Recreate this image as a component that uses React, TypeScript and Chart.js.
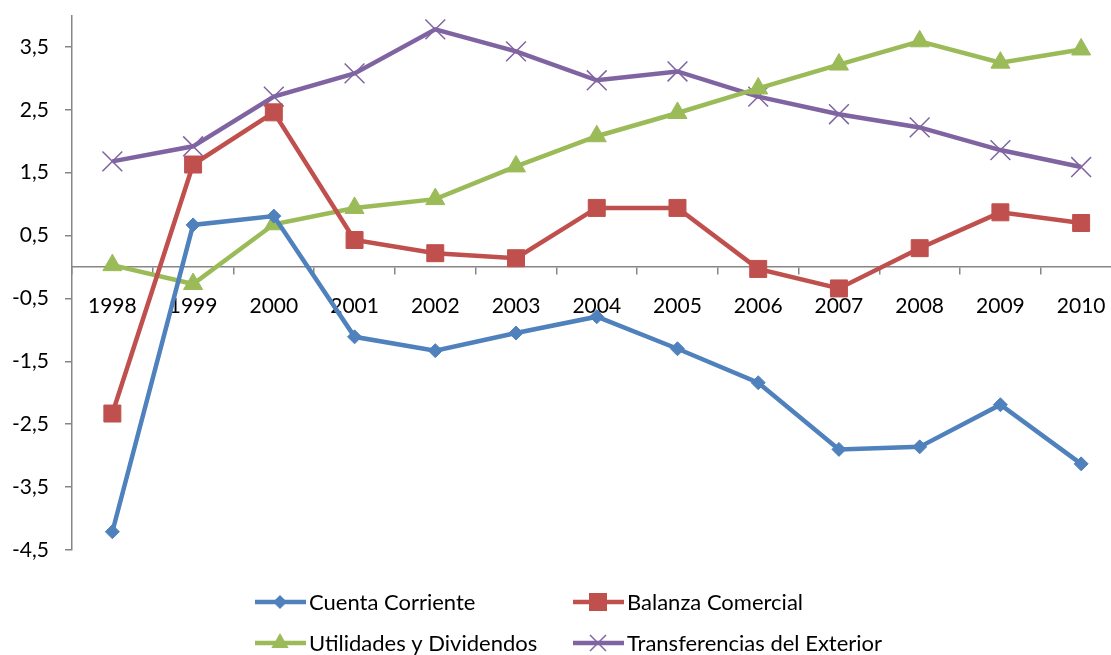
import React, { useEffect, useRef } from "react";
import { Chart, registerables } from "chart.js";

Chart.register(...registerables);

const years = ["1998", "1999", "2000", "2001", "2002", "2003", "2004", "2005", "2006", "2007", "2008", "2009", "2010"];
const cuentaCorriente = [-4.21, 0.67, 0.81, -1.11, -1.33, -1.05, -0.79, -1.3, -1.84, -2.9, -2.86, -2.19, -3.13];
const balanzaComercial = [-2.33, 1.63, 2.46, 0.43, 0.22, 0.14, 0.94, 0.94, -0.03, -0.34, 0.3, 0.87, 0.7];
const utilidadesDividendos = [0.03, -0.27, 0.68, 0.94, 1.08, 1.6, 2.08, 2.45, 2.84, 3.22, 3.59, 3.25, 3.46];
const transferenciasExterior = [1.68, 1.92, 2.71, 3.08, 3.78, 3.43, 2.97, 3.11, 2.71, 2.43, 2.22, 1.86, 1.59];
const yTickValues = [-4.5, -3.5, -2.5, -1.5, -0.5, 0.5, 1.5, 2.5, 3.5];
const seriesNames = ["Cuenta Corriente", "Balanza Comercial", "Utilidades y Dividendos", "Transferencias del Exterior"];

const BLUE = "#4F81BD";
const RED = "#C0504D";
const GREEN = "#9BBB59";
const PURPLE = "#8064A2";
const AXIS = "#868686";
const FONT = "Lato, 'Open Sans', sans-serif";

const legendLayout = [
  { x: 255, y: 602, color: BLUE, style: "diamond" },
  { x: 573, y: 602, color: RED, style: "square" },
  { x: 255, y: 643, color: GREEN, style: "triangle" },
  { x: 573, y: 643, color: PURPLE, style: "cross" },
];

function drawMarker(ctx: CanvasRenderingContext2D, style: string, x: number, y: number, color: string) {
  ctx.save();
  ctx.fillStyle = color;
  ctx.strokeStyle = color;
  ctx.beginPath();
  if (style === "diamond") {
    const r = 7;
    ctx.moveTo(x - r, y);
    ctx.lineTo(x, y - r);
    ctx.lineTo(x + r, y);
    ctx.lineTo(x, y + r);
    ctx.closePath();
    ctx.fill();
  } else if (style === "square") {
    const h = 9;
    ctx.rect(x - h, y - h, 2 * h, 2 * h);
    ctx.fill();
  } else if (style === "triangle") {
    const r = 10;
    ctx.moveTo(x, y - r);
    ctx.lineTo(x + r * 0.866, y + r * 0.5);
    ctx.lineTo(x - r * 0.866, y + r * 0.5);
    ctx.closePath();
    ctx.fill();
  } else {
    const d = 8;
    ctx.lineWidth = 1.5;
    ctx.moveTo(x - d, y - d);
    ctx.lineTo(x + d, y + d);
    ctx.moveTo(x - d, y + d);
    ctx.lineTo(x + d, y - d);
    ctx.stroke();
  }
  ctx.restore();
}

const legendPlugin = {
  id: "excelLegend",
  afterDraw(chart: any) {
    const ctx: CanvasRenderingContext2D = chart.ctx;
    ctx.save();
    legendLayout.forEach((item, i) => {
      ctx.strokeStyle = item.color;
      ctx.lineWidth = 4.5;
      ctx.beginPath();
      ctx.moveTo(item.x, item.y);
      ctx.lineTo(item.x + 51, item.y);
      ctx.stroke();
      drawMarker(ctx, item.style, item.x + 25, item.y, item.color);
      ctx.fillStyle = "#000";
      ctx.font = `22px ${FONT}`;
      ctx.textBaseline = "middle";
      ctx.textAlign = "left";
      ctx.fillText(seriesNames[i], item.x + 54, item.y + 1);
    });
    ctx.restore();
  },
};

export default function App() {
  const canvasRef = useRef<HTMLCanvasElement | null>(null);

  useEffect(() => {
    if (!canvasRef.current) return;
    const chart = new Chart(canvasRef.current, {
      type: "line",
      data: {
        labels: years,
        datasets: [
          {
            label: seriesNames[0],
            data: cuentaCorriente,
            borderColor: BLUE,
            backgroundColor: BLUE,
            borderWidth: 4.5,
            pointStyle: "rectRot",
            pointRadius: 7,
            pointBorderWidth: 1,
            tension: 0,
          },
          {
            label: seriesNames[1],
            data: balanzaComercial,
            borderColor: RED,
            backgroundColor: RED,
            borderWidth: 4.5,
            pointStyle: "rect",
            pointRadius: 12,
            pointBorderWidth: 1,
            tension: 0,
          },
          {
            label: seriesNames[2],
            data: utilidadesDividendos,
            borderColor: GREEN,
            backgroundColor: GREEN,
            borderWidth: 4.5,
            pointStyle: "triangle",
            pointRadius: 11,
            pointBorderWidth: 1,
            tension: 0,
          },
          {
            label: seriesNames[3],
            data: transferenciasExterior,
            borderColor: PURPLE,
            backgroundColor: PURPLE,
            borderWidth: 4.5,
            pointStyle: "crossRot",
            pointRadius: 14,
            pointBorderWidth: 1.5,
            tension: 0,
          },
        ],
      },
      options: {
        animation: false,
        responsive: false,
        maintainAspectRatio: false,
        layout: { padding: { left: 0, top: 12, right: 4, bottom: 105 } },
        plugins: {
          legend: { display: false },
          tooltip: { enabled: false },
        },
        scales: {
          x: {
            type: "category",
            offset: true,
            position: { y: 0 } as any,
            afterFit: (scale: any) => {
              scale.paddingLeft = 0;
              scale.paddingRight = 0;
              scale.paddingTop = 0;
              scale.paddingBottom = 0;
            },
            grid: {
              offset: true,
              drawOnChartArea: false,
              drawTicks: true,
              tickLength: 7,
              color: AXIS,
              lineWidth: 1.5,
            },
            border: { color: AXIS, width: 1.5 },
            ticks: {
              padding: 20,
              color: "#000",
              font: { family: FONT, size: 21 },
              maxRotation: 0,
              autoSkip: false,
            },
          },
          y: {
            type: "linear",
            position: "left",
            min: -4.5,
            max: 4,
            afterBuildTicks: (scale: any) => {
              scale.ticks = yTickValues.map((v) => ({ value: v }));
            },
            afterFit: (scale: any) => {
              scale.width = 72;
              scale.paddingTop = 0;
              scale.paddingBottom = 0;
            },
            grid: {
              drawOnChartArea: false,
              drawTicks: true,
              tickLength: 7,
              color: AXIS,
              lineWidth: 1.5,
            },
            border: { color: AXIS, width: 1.5 },
            ticks: {
              padding: 16,
              color: "#000",
              font: { family: FONT, size: 21 },
              callback: (v: any) => Number(v).toFixed(1).replace(".", ","),
            },
          },
        },
      },
      plugins: [legendPlugin],
    });
    return () => chart.destroy();
  }, []);

  return (
    <div style={{ position: "absolute", left: 0, top: 0, width: 1111, height: 655, overflow: "hidden", background: "#fff" }}>
      <canvas ref={canvasRef} width={1137} height={655} style={{ width: 1137, height: 655, display: "block" }} />
    </div>
  );
}
